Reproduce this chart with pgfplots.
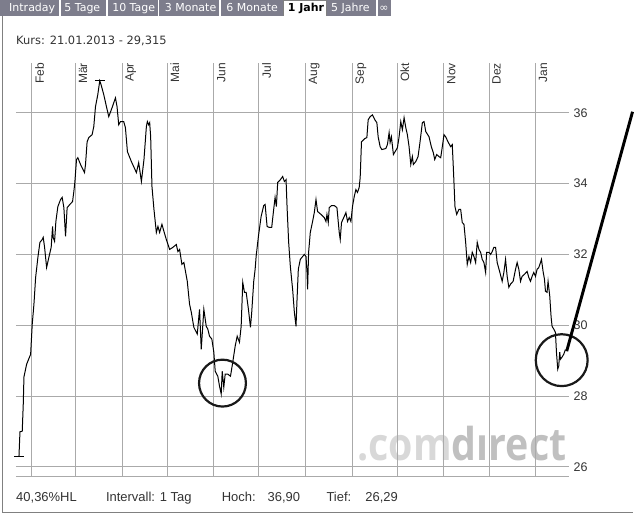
\documentclass[border=0pt]{standalone}
\usepackage{pgfplots}
\pgfplotsset{compat=1.18}
\usepackage{fontspec}
\setmainfont{Liberation Sans}
\newfontfamily\verd{DejaVu Sans}
\newfontfamily\logo{Open Sans}
\definecolor{gridgray}{RGB}{170,170,170}
\definecolor{labelgray}{RGB}{51,51,51}
\definecolor{tabgray}{RGB}{125,125,140}
\definecolor{framegray}{RGB}{128,128,128}
\definecolor{logolight}{RGB}{216,216,216}
\definecolor{logodark}{RGB}{192,192,192}
\begin{document}
\begin{tikzpicture}
\begin{scope}[x=0.75pt,y=-0.75pt]
\path[use as bounding box] (0,0) rectangle (634,517);
% tab bar
\fill[tabgray] (0,0) rectangle (392,16);
\fill[white] (284,0) rectangle (327,17);
\foreach \s in {60,107,159,220.5,378}{\draw[white,line width=1.2pt] (\s,0) -- (\s,16);}
\draw[framegray,line width=0.75pt] (284,16) -- (284,0.4) -- (327,0.4) -- (327,16);
\begin{scope}[every node/.style={anchor=base west,inner sep=0pt,font=\verd\fontsize{8.25}{10}\selectfont}]
\node[text=white] at (9,12) {Intraday};
\node[text=white] at (64.3,12) {5 Tage};
\node[text=white] at (112.3,12) {10 Tage};
\node[text=white] at (165,12) {3 Monate};
\node[text=white] at (226.7,12) {6 Monate};
\node[text=black,font=\verd\bfseries\fontsize{8.25}{10}\selectfont] at (288.3,12) {1 Jahr};
\node[text=white] at (331.7,12) {5 Jahre};
\node[text=white] at (380,12) {∞};
\end{scope}
% frame
\draw[framegray,line width=0.75pt] (2.5,16) -- (2.5,513.5) -- (634,513.5);
% header
\node[anchor=base west,inner sep=0pt,text=labelgray,font=\verd\fontsize{8.6}{10}\selectfont] at (16,44.3) {Kurs: 21.01.2013 - 29,315};
% watermark
\node[anchor=base west,inner sep=0pt,font=\logo\bfseries\fontsize{34}{40}\selectfont] at (358,462) {\scalebox{0.87}[1]{\textcolor{logolight}{.com}\textcolor{logodark}{dırect}}};
% footer
\begin{scope}[every node/.style={anchor=base west,inner sep=0pt,text=labelgray,font=\fontsize{9.75}{11}\selectfont}]
\node at (16,503) {40,36\%HL};
\node at (106,503) {Intervall: 1 Tag};
\node at (222,503) {Hoch:};
\node at (268,503) {36,90};
\node at (327,503) {Tief:};
\node at (366,503) {26,29};
\end{scope}
\end{scope}
\begin{axis}[
  at={(12pt,-358.5pt)}, anchor=south west,
  scale only axis, width=415.5pt, height=311.25pt,
  xmin=-10.62, xmax=357.0, ymin=25.718, ymax=37.408,
  axis line style={draw=none},
  clip=false,
  xtick={0,29,60,90,121,151,182,213,243,274,304,335},
  xticklabels={Feb,Mär,Apr,Mai,Jun,Jul,Aug,Sep,Okt,Nov,Dez,Jan},
  xticklabel pos=right,
  xticklabel style={rotate=90, anchor=north east, inner xsep=0pt, inner ysep=2.25pt, font=\fontsize{9}{9}\selectfont, text=labelgray},
  ytick={26,28,30,32,34,36}, yticklabels={26,28,30,32,34,36},
  yticklabel pos=right,
  yticklabel style={font=\fontsize{9.4}{10}\selectfont, text=labelgray, anchor=west, inner sep=3.5pt},
  major tick length=0pt,
  grid=major, major grid style={gridgray, line width=0.75pt},
]
\draw[gridgray, line width=0.75pt] (rel axis cs:0,0) -- (rel axis cs:1,0);
\addplot[black, line width=0.75pt, sharp plot] coordinates {
(-8.63,26.29) (-7.96,26.99) (-6.44,27.01) (-5.77,27.77) (-5.31,28.54) (-3.52,28.90) (-0.86,29.18)
(0.20,30.03) (1.33,30.59) (2.46,31.35) (3.98,31.92) (5.31,32.34) (6.84,32.42) (7.50,32.48)
(8.43,32.20) (9.76,31.63) (11.28,31.92) (12.81,32.20) (13.74,32.79) (14.13,32.48) (15.06,32.37)
(15.93,32.93) (17.25,33.35) (19.05,33.55) (20.11,33.61) (21.24,33.32) (22.36,32.51) (23.42,33.32)
(25.22,33.41) (27.01,33.49) (27.87,33.77) (28.53,34.03) (29.66,34.68) (30.53,34.73) (32.32,34.54)
(34.97,34.31) (35.64,34.54) (36.70,35.18) (37.83,35.30) (40.02,35.38) (41.14,35.61) (42.27,36.17)
(43.80,36.51) (45.12,36.90) (45.99,36.79) (47.78,36.51) (49.57,36.17) (51.10,35.89) (53.29,36.14)
(55.54,36.42) (56.61,36.17) (57.73,35.66) (58.86,35.75) (61.05,35.75) (62.18,35.58)
(63.51,34.90) (66.16,34.62) (69.48,34.31) (71.01,34.59) (72.80,34.06) (74.52,34.68) (76.12,35.61)
(76.78,35.75) (77.64,35.66) (78.31,35.72) (78.97,35.32) (79.83,33.92) (81.16,33.27) (82.75,32.62)
(83.81,32.79) (84.94,32.62) (86.47,32.85) (87.79,32.65) (89.39,32.42) (91.58,32.14) (93.77,32.20)
(96.02,32.28) (97.08,32.08) (98.21,32.14) (99.74,31.72) (101.07,31.77) (103.32,31.24) (104.85,30.59)
(105.98,30.37) (107.70,29.94) (109.96,29.75) (111.48,30.45) (112.61,29.32) (114.34,30.45) (115.93,29.97)
(116.99,29.89) (118.12,29.69) (119.65,29.61) (120.97,29.24) (121.90,28.70) (123.63,28.56) (124.76,28.28)
(125.89,28.06) (126.55,28.70) (127.61,28.25) (128.54,28.62) (130.27,28.62) (132.06,28.56) (133.58,28.96)
(135.18,29.41) (136.51,29.69) (138.03,29.52) (139.16,29.97) (140.22,31.21) (141.35,30.93) (142.48,30.93)
(144.00,30.45) (145.33,29.94) (146.19,30.37) (147.52,31.24) (148.45,31.58)
(149.11,31.94) (150.64,32.51) (152.43,33.07) (154.16,33.38) (155.09,33.41) (156.41,32.79) (157.94,32.76)
(159.47,32.76) (160.79,33.27) (161.72,33.61) (162.58,33.35) (163.45,34.03) (165.24,34.11) (166.77,34.20)
(167.89,34.06) (169.02,34.11) (169.68,33.35) (170.75,32.34) (171.87,31.66) (173.40,31.01) (174.53,30.37)
(175.65,29.97) (176.32,30.73) (177.18,31.58) (178.51,31.86) (180.04,31.94) (181.16,32.00) (182.29,31.94)
(182.96,31.49) (183.35,31.01) (184.02,32.06) (185.14,32.62) (186.67,32.93) (187.80,33.18) (188.93,33.55)
(189.99,33.21) (192.24,33.13) (194.43,33.04) (195.56,32.93) (196.22,33.13) (197.09,32.90) (197.75,33.32)
(199.28,33.38) (201.07,33.38) (202.86,33.32) (204.39,32.62) (205.05,32.42) (205.91,32.90) (207.71,33.07)
(208.83,33.18) (209.90,32.93) (211.03,33.04) (212.15,32.93) (213.21,33.35) (214.34,33.63) (215.47,33.83)
(216.53,33.75) (217.66,33.89) (218.32,34.17) (219.19,35.18) (221.44,35.27) (222.77,35.30) (223.63,35.80)
(224.96,35.89) (226.49,35.94) (228.08,35.80) (229.41,35.72) (230.27,35.32) (231.60,35.04) (232.73,34.96)
(235.38,34.99) (236.44,35.10) (237.57,35.44) (238.23,35.16) (239.09,35.32) (240.42,34.82)
(243.07,35.01) (244.20,35.32) (245.33,35.75) (246.39,35.52) (247.52,35.86) (248.65,35.58) (249.71,35.38)
(250.84,35.04) (251.97,34.54) (253.03,34.76) (253.69,34.54) (255.29,34.62) (256.81,34.76) (258.14,35.18)
(259.67,35.72) (260.79,35.75) (261.92,35.47) (264.11,35.32) (265.64,35.04) (266.97,34.87) (267.90,34.68)
(269.23,34.82) (270.75,34.76) (271.88,34.73) (272.94,35.04) (274.07,35.38) (275.19,35.32) (276.72,35.18)
(278.51,35.04) (279.57,35.10) (280.24,34.48) (280.70,34.03) (281.37,33.35) (282.50,33.13) (284.02,33.27)
(285.15,33.27) (286.21,32.90) (287.34,32.85) (288.47,32.34) (289.53,31.72) (290.66,31.94) (291.79,31.77)
(292.85,32.06) (293.98,31.94) (295.11,31.77) (296.17,32.34) (297.30,32.14) (298.43,32.06) (299.49,31.86)
(300.62,31.77) (301.75,31.49) (302.41,32.06) (303.94,32.06) (305.07,32.00) (306.13,32.08) (307.26,32.20)
(308.38,32.20) (309.44,31.77) (311.23,31.49) (312.76,31.24) (313.88,31.49) (315.01,31.86) (316.07,31.38)
(317.20,31.07) (318.33,31.16) (320.05,31.24) (321.65,31.58) (322.71,31.77) (323.84,31.58) (324.97,31.24)
(326.03,31.38) (327.62,31.44) (329.35,31.52) (330.47,31.35) (331.60,31.24) (332.66,31.38) (333.79,31.49)
(334.92,31.38) (335.98,31.58) (337.11,31.63) (338.24,31.77) (338.90,31.86) (339.96,31.52) (340.89,31.30)
(341.55,30.96) (342.61,30.93) (343.28,31.24) (344.41,30.82) (345.27,30.25) (345.94,29.97) (347.07,29.89)
(348.19,29.80) (348.86,29.24) (349.72,28.76) (350.38,28.85) (351.05,29.24) (351.52,29.04) (352.58,29.10)
(353.71,29.18) (354.84,29.315)
};
% high / low bars
\addplot[black, line width=0.75pt] coordinates {(41.8,36.90) (48.4,36.90)};
\addplot[black, line width=0.75pt] coordinates {(-11.9,26.29) (-5.3,26.29)};
\end{axis}
\begin{scope}[x=0.75pt,y=-0.75pt]
\draw[black!90, line width=1.65pt] (223,384) circle (23.5);
\draw[black!90, line width=1.65pt] (563,361) circle (26);
\draw[black, line width=2.2pt] (568,352) -- (634,112);
\end{scope}
\end{tikzpicture}
\end{document}
